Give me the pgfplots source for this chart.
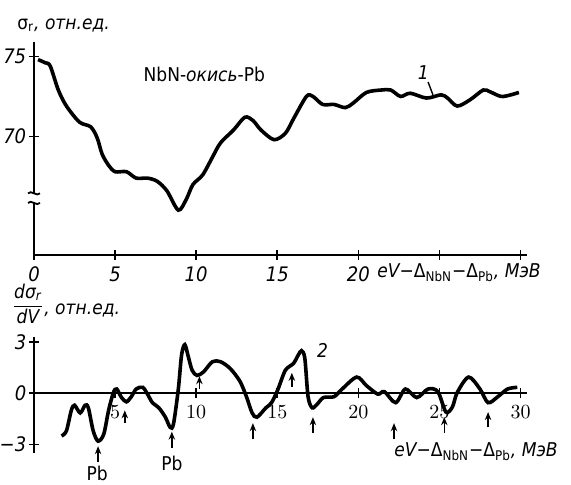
\documentclass[border=0pt]{standalone}
\usepackage{fontspec}
\setmainfont{DejaVu Sans Condensed}
\usepackage{pgfplots}
\pgfplotsset{compat=1.18}
\usetikzlibrary{arrows.meta}

\pgfplotsset{
  sovstyle/.style={
    scale only axis, anchor=south west, clip=false,
    xmin=0, xmax=30.4,
    tick style={line width=0.8pt,black},
    major tick length=5pt, tick align=inside,
    tick label style={font=\itshape\fontsize{10}{11}\selectfont},
    yticklabel style={inner xsep=1.2pt},
  },
  noarrows/.style={axis line style={line width=1.1pt,-}},
  curve/.style={black, line width=1.8pt, smooth, tension=0.5, no marks},
}
\tikzset{uparr/.style={-{Stealth[length=4pt,width=3.2pt]}, line width=0.8pt}}
\newcommand{\lbl}{\fontsize{9.5}{11}\selectfont}

\begin{document}
\begin{tikzpicture}
\useasboundingbox (0,0) rectangle (285.5pt,242.5pt);

% upper panel: sigma_r
\begin{axis}[sovstyle,
  at={(17pt,115pt)}, width=246.5pt, height=106.5pt,
  ymin=62.6, ymax=75.9,
  axis lines=left, noarrows,
  xtick={0,5,...,30}, xticklabels={0,5,10,15,20,{},{}},
  ytick={70,75}, yticklabels={70,75},
]
\addplot[curve] coordinates {
(0.25,74.8) (0.7,74.6) (1.0,74.4) (1.5,72.9) (2.0,71.9) (2.8,70.9) (3.5,70.6)
(3.9,69.9) (4.2,68.9) (4.6,68.2) (5.0,67.8) (5.7,67.8) (6.3,67.4) (7.0,67.4)
(7.6,67.2) (8.2,66.6) (8.9,65.4) (9.4,66.1) (9.8,67.0) (10.4,67.6) (11.0,68.7)
(11.5,69.6) (12.3,70.4) (13.0,71.2) (13.5,71.0) (14.0,70.4) (14.8,69.8)
(15.5,70.2) (16.0,71.1) (16.8,72.5) (17.2,72.5) (17.8,72.0) (18.5,72.0)
(19.2,71.8) (19.7,72.1) (20.5,72.75) (21.4,72.9) (22.0,72.9) (22.6,72.5)
(23.2,72.7) (24.2,72.4) (25.1,72.6) (25.5,72.4) (26.1,71.9) (26.9,72.3)
(27.7,72.9) (28.1,72.8) (28.8,72.5) (29.4,72.6) (29.9,72.75)
};
% axis break
\fill[white] ([xshift=-4pt]axis cs:0,65.85) rectangle ([xshift=4pt]axis cs:0,66.45);
\draw[line width=0.9pt] ([xshift=-3pt]axis cs:0,66.45) .. controls +(1.5pt,2pt) and +(-1.5pt,-2pt) .. ([xshift=3pt]axis cs:0,66.45);
\draw[line width=0.9pt] ([xshift=-3pt]axis cs:0,65.85) .. controls +(1.5pt,2pt) and +(-1.5pt,-2pt) .. ([xshift=3pt]axis cs:0,65.85);
\node[font=\lbl] at (axis cs:10.5,73.9) {NbN-{\itshape окись}-Pb};
\node[font=\lbl\itshape] at (axis cs:24.0,74.0) {1};
\draw[line width=0.7pt] (axis cs:24.3,73.4) -- (axis cs:24.6,72.6);
\end{axis}

% lower panel: derivative
\begin{axis}[sovstyle,
  at={(17pt,16pt)}, width=246.5pt, height=58pt,
  ymin=-3.5, ymax=3.3,
  axis x line=middle, axis y line=left, noarrows,
  hide obscured y ticks=false,
  xtick={5,10,...,30},
  ytick={-3,0,3}, yticklabels={−3,0,3},
]
\addplot[curve] coordinates {
(1.7,-2.5) (2.0,-2.2) (2.3,-1.0) (2.5,-0.7) (2.85,-1.15) (3.15,-0.7) (3.35,-0.85)
(3.65,-2.2) (3.95,-2.8) (4.3,-2.4) (4.6,-1.0) (4.9,0.05) (5.1,0.25) (5.4,-0.25)
(5.7,-0.5) (6.0,-0.2) (6.3,0.25) (6.7,0.35) (7.0,-0.05) (7.3,-0.55) (7.7,-0.85)
(8.1,-1.4) (8.4,-2.0) (8.6,-1.8) (8.9,0.25) (9.1,2.25) (9.3,2.85) (9.5,2.2)
(9.75,1.35) (10.05,1.05) (10.45,1.25) (11.0,1.85) (11.5,1.85) (12.1,1.45)
(12.7,0.7) (13.1,-0.2) (13.45,-1.15) (13.75,-1.4) (14.3,-0.85) (14.65,-0.55)
(15.05,0.25) (15.5,1.35) (16.0,1.75) (16.3,2.25) (16.5,2.5) (16.7,2.05)
(16.9,-0.2) (17.15,-0.85) (17.45,-0.65) (17.85,-0.25) (18.5,-0.2) (19.0,0.25)
(19.9,0.95) (20.5,0.45) (21.2,-0.05) (21.6,0.1) (22.3,-0.55) (22.9,0.25)
(23.6,-0.25) (24.3,0.25) (24.9,0.1) (25.4,-1.1) (25.8,-0.8) (26.1,0.05)
(26.8,0.95) (27.5,0.25) (28.0,-0.55) (28.6,-0.2) (29.2,0.25) (29.8,0.35)
};
\draw[uparr] (axis cs:3.95,-4.0) -- (axis cs:3.95,-3.1);
\draw[uparr] (axis cs:5.6,-1.75) -- (axis cs:5.6,-1.0);
\draw[uparr] (axis cs:8.5,-3.2) -- (axis cs:8.5,-2.25);
\draw[uparr] (axis cs:10.2,0.25) -- (axis cs:10.2,1.0);
\draw[uparr] (axis cs:13.5,-2.7) -- (axis cs:13.5,-1.75);
\draw[uparr] (axis cs:15.9,0.35) -- (axis cs:15.9,1.2);
\draw[uparr] (axis cs:17.2,-2.3) -- (axis cs:17.2,-1.4);
\draw[uparr] (axis cs:22.2,-2.7) -- (axis cs:22.2,-1.75);
\draw[uparr] (axis cs:25.3,-2.3) -- (axis cs:25.3,-1.4);
\draw[uparr] (axis cs:28.0,-2.0) -- (axis cs:28.0,-1.1);
\node[font=\lbl, inner sep=0pt] at (axis cs:3.9,-4.7) {Pb};
\node[font=\lbl, inner sep=0pt] at (axis cs:8.5,-4.1) {Pb};
\node[font=\lbl\itshape] at (axis cs:17.8,2.5) {2};
\end{axis}

% axis titles
\node[font=\lbl, anchor=base west, inner sep=0pt] at (8.5pt,227.5pt)
  {σ\textsubscript{r}{\itshape , отн.ед.}};
\node[font=\lbl, anchor=base west, inner sep=0pt] at (188.5pt,103.5pt)
  {{\itshape eV}−Δ\textsubscript{NbN}−Δ\textsubscript{Pb}{\itshape , МэВ}};
\node[font=\lbl, inner sep=0pt] at (14pt,90.5pt)
  {$\displaystyle\frac{\hbox{\lbl\itshape dσ\textsubscript{r}}}{\hbox{\lbl\itshape dV}}$};
\node[font=\lbl\itshape, anchor=base west, inner sep=0pt] at (22pt,85pt) {, отн.ед.};
\node[font=\lbl, anchor=base west, inner sep=0pt] at (197pt,14pt)
  {{\itshape eV}−Δ\textsubscript{NbN}−Δ\textsubscript{Pb}{\itshape , МэВ}};
\end{tikzpicture}
\end{document}
